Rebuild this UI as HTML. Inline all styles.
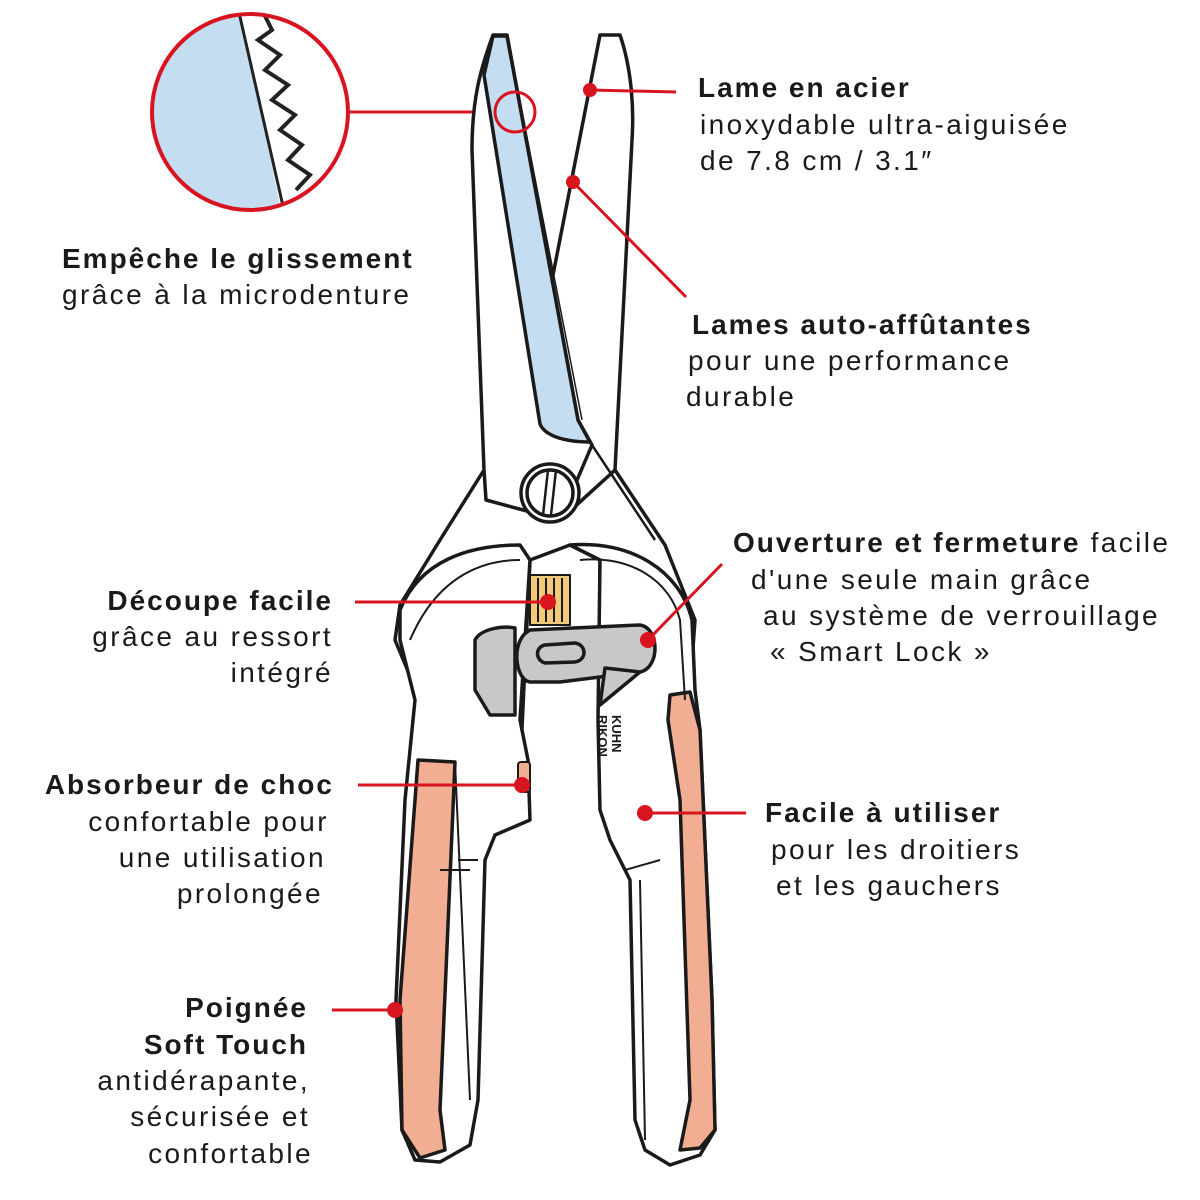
<!DOCTYPE html>
<html><head><meta charset="utf-8"><style>
body{margin:0;background:#fff;}
svg{display:block}
text{font-family:"Liberation Sans",sans-serif;font-size:28px;fill:#1a1a1a;letter-spacing:2.4px}
.b{font-weight:bold;letter-spacing:2px}
</style></head><body>
<svg width="1200" height="1200" viewBox="0 0 1200 1200" xmlns="http://www.w3.org/2000/svg">
<defs><clipPath id="mag"><circle cx="250" cy="112" r="98"/></clipPath></defs>
<g clip-path="url(#mag)">
<rect x="140" y="0" width="230" height="230" fill="#fff"/>
<path d="M140,0 L238,0 L285,230 L140,230Z" fill="#c5ddf1"/>
<path d="M238,8 L285,215" stroke="#222" stroke-width="3" fill="none"/>
<path d="M262,10 L272,30 L258,40 L280,55 L265,70 L288,85 L272,100 L295,115 L280,130 L302,145 L288,160 L310,175 L296,190" stroke="#222" stroke-width="4" fill="none"/>
</g>
<circle cx="250" cy="112" r="98" fill="none" stroke="#d7141f" stroke-width="4"/>
<line x1="348" y1="112" x2="495" y2="112" stroke="#d7141f" stroke-width="3"/>
<g stroke="#1a1a1a" stroke-width="3.5" stroke-linejoin="round" fill="#fff">
<!-- body -->
<path d="M484,470 L440,540 L400,605 L395,640 L420,700 L430,770 L520,770 L530,560 L570,545 L600,560 L600,720 L650,720 L690,690 L695,620 L665,545 L615,470 L560,520 Z"/>
<!-- right blade -->
<path d="M600,35 L620,35 C632,70 634,110 632,140 L615,470 L560,520 L552,280 Z"/>
<!-- left blade -->
<path d="M493,35 L507,35 L578,420 L592,445 L560,520 L486,500 L484,470 L472,150 C472,100 480,70 493,35Z"/>
<path d="M484,75 L493,36 L507,36 L578,420 L590,442 C565,442 545,436 540,424 Z" fill="#c5ddf1"/>
<path d="M512,60 L582,420" fill="none" stroke-width="1.5"/>
<path d="M590,442 L655,540" fill="none" stroke-width="2.5"/>
<!-- left handle -->
<path d="M400,610 C420,560 470,545 520,545 L530,560 L520,720 L528,760 L530,820 L495,835 L485,860 L478,1100 L470,1145 L440,1162 L415,1160 L402,1130 L396,1000 L405,800 L415,700 L400,640 Z"/>
<path d="M418,760 L455,762 L440,1110 L445,1150 L420,1158 L402,1130 L400,1000 Z" fill="#f2ae92"/>
<path d="M410,640 C440,570 490,560 520,560" fill="none" stroke-width="2"/>
<path d="M455,762 L470,1100 M440,870 L470,870 M458,860 L478,860" fill="none" stroke-width="2"/>
<!-- right handle -->
<path d="M570,545 C630,540 680,570 692,620 L695,690 L700,730 L712,1000 L715,1130 L700,1155 L670,1165 L645,1150 L635,1120 L630,880 L610,840 L600,810 L598,720 L600,560 Z"/>
<path d="M670,695 L690,692 L700,730 L712,1000 L715,1130 L700,1148 L680,1150 L690,1100 L680,800 L668,720 Z" fill="#f2ae92"/>
<path d="M580,560 C630,555 670,580 680,620 L685,700" fill="none" stroke-width="2"/>
<path d="M640,880 L645,1140 M625,870 L660,860" fill="none" stroke-width="2"/>
<!-- spring -->
<rect x="530" y="575" width="40" height="50" fill="#f3c97a" stroke-width="2"/>
<path d="M538,578 V622 M546,578 V622 M554,578 V622 M562,578 V622" stroke-width="2"/>
<!-- lock -->
<path d="M475,640 C480,630 500,625 515,628 L515,690 L515,715 L490,715 L475,690 Z" fill="#c8c8c8"/>
<path d="M530,630 L640,625 C660,628 660,668 640,672 L560,682 L530,682 C515,680 510,640 530,630Z" fill="#c8c8c8"/>
<path d="M545,645 L575,643 C587,645 587,660 575,662 L545,663 C535,660 535,647 545,645Z" fill="#c8c8c8"/>
<path d="M605,668 L640,672 L600,705 Z" fill="#c8c8c8"/>
<!-- pivot -->
<circle cx="550" cy="493" r="29"/>
<circle cx="550" cy="493" r="23"/>
<path d="M548,470 L543,515 M556,470 L551,515" stroke-width="2.5"/>
<rect x="518" y="762" width="12" height="30" rx="3" fill="#f2ae92" stroke-width="2"/>
</g>
<text x="612" y="715" transform="rotate(90 612 715)" style="font-size:13px;font-weight:bold;letter-spacing:0">KUHN</text>
<text x="598" y="715" transform="rotate(90 598 715)" style="font-size:13px;font-weight:bold;letter-spacing:0">RIKON</text>
<g stroke="#d7141f" stroke-width="3" fill="none">
<circle cx="515" cy="112" r="20"/>
<line x1="590" y1="90" x2="676" y2="92"/>
<line x1="573" y1="182" x2="686" y2="297"/>
<line x1="355" y1="602" x2="548" y2="602"/>
<line x1="648" y1="640" x2="722" y2="564"/>
<line x1="358" y1="785" x2="522" y2="785"/>
<line x1="645" y1="813" x2="746" y2="813"/>
<line x1="332" y1="1010" x2="395" y2="1010"/>
</g>
<g fill="#d7141f">
<circle cx="590" cy="90" r="7"/><circle cx="573" cy="182" r="7"/>
<circle cx="548" cy="602" r="8"/><circle cx="648" cy="640" r="8"/>
<circle cx="522" cy="785" r="8"/><circle cx="645" cy="813" r="8"/>
<circle cx="395" cy="1010" r="8"/>
</g>
<text x="698" y="97" class="b">Lame en acier</text>
<text x="700" y="134">inoxydable ultra-aiguisée</text>
<text x="700" y="170">de 7.8 cm / 3.1″</text>
<text x="62" y="268" class="b">Empêche le glissement</text>
<text x="62" y="304">grâce à la microdenture</text>
<text x="692" y="334" class="b">Lames auto-affûtantes</text>
<text x="688" y="370">pour une performance</text>
<text x="686" y="406">durable</text>
<text x="733" y="552"><tspan class="b">Ouverture et fermeture</tspan> facile</text>
<text x="751" y="589">d'une seule main grâce</text>
<text x="763" y="625">au système de verrouillage</text>
<text x="770" y="661">« Smart Lock »</text>
<g text-anchor="end">
<text x="333" y="610" class="b">Découpe facile</text>
<text x="333" y="646">grâce au ressort</text>
<text x="333" y="682">intégré</text>
<text x="334" y="794" class="b">Absorbeur de choc</text>
<text x="329" y="831">confortable pour</text>
<text x="326" y="867">une utilisation</text>
<text x="323" y="903">prolongée</text>
<text x="308" y="1017" class="b">Poignée</text>
<text x="308" y="1054" class="b">Soft Touch</text>
<text x="310" y="1090">antidérapante,</text>
<text x="310" y="1126">sécurisée et</text>
<text x="313" y="1163">confortable</text>
</g>
<text x="765" y="822" class="b">Facile à utiliser</text>
<text x="771" y="859">pour les droitiers</text>
<text x="776" y="895">et les gauchers</text>
</svg>
</body></html>
